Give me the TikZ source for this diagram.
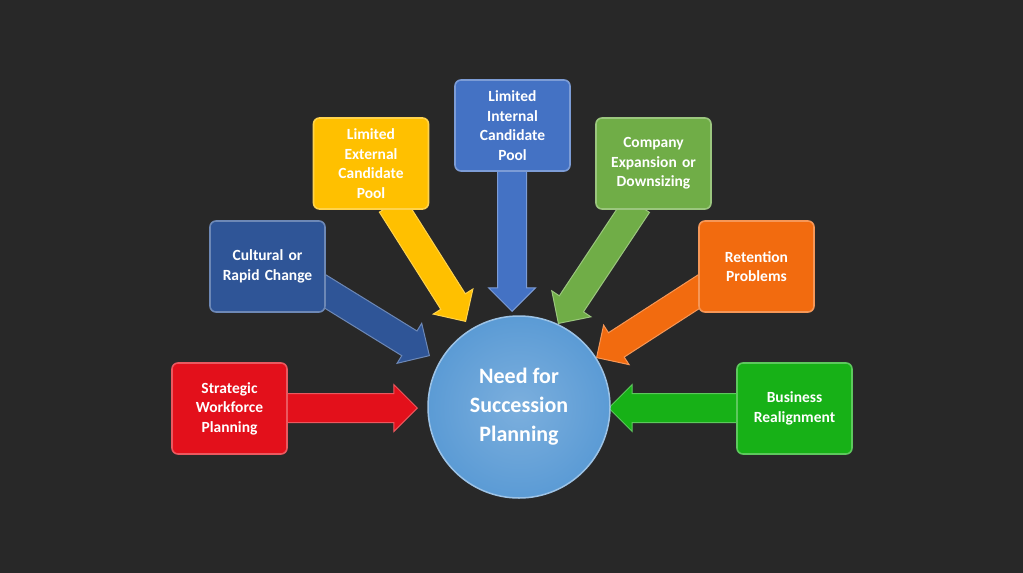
\documentclass[tikz,border=0pt]{standalone}
\usepackage{fontspec}
\setmainfont{Carlito}
\usetikzlibrary{shapes.arrows,calc,backgrounds}
\definecolor{bg}{HTML}{282828}
\definecolor{cred}{HTML}{E3101B}
\definecolor{cdblue}{HTML}{2F5597}
\definecolor{cyel}{HTML}{FFC000}
\definecolor{cblue}{HTML}{4472C4}
\definecolor{cgreen}{HTML}{70AD47}
\definecolor{corange}{HTML}{F26B0F}
\definecolor{cbgreen}{HTML}{17B117}
\definecolor{ccirc}{HTML}{5B9BD5}
\tikzset{
  box/.style={draw=#1!70!white, line width=1.6pt, fill=#1, rounded corners=6pt,
    minimum width=115pt, minimum height=91pt, text width=104pt, align=center,
    text=white, font=\bfseries\fontsize{15.5}{19.5}\selectfont},
  barrow/.style={single arrow, draw=#1!70!white, line width=1pt, fill=#1,
    single arrow head extend=9pt, single arrow head indent=0pt, inner xsep=0pt, inner ysep=14pt},
}
\newcommand\blockarrow[3]{%
  \path let \p1=($(#2)-(#1)$), \n1={veclen(\x1,\y1)}, \n2={atan2(\y1,\x1)} in
    node[barrow=#3, minimum height=\n1, rotate=\n2, anchor=tip] at (#2) {};}
\begin{document}
\begin{tikzpicture}[x=1pt,y=-1pt]
\useasboundingbox (0,0) rectangle (1023,573);
\node[circle, draw=ccirc!60!white, line width=1.5pt, inner color=ccirc!80!white, outer color=ccirc,
  minimum size=182pt, text=white, align=center, font=\bfseries\fontsize{22}{29}\selectfont] (c) at (519,407)
  {Need for\\Succession\\Planning};
\node[box=cred] (b1) at (229.5,408.5) {Strategic\\Workforce\\Planning};
\node[box=cdblue] (b2) at (267.5,266.5) {Cultural or\\Rapid Change};
\node[box=cyel] (b3) at (371,163.5) {Limited\\External\\Candidate\\Pool};
\node[box=cblue] (b4) at (512.5,125.5) {Limited\\Internal\\Candidate\\Pool};
\node[box=cgreen] (b5) at (653.5,163.5) {Company\\Expansion or\\Downsizing};
\node[box=corange] (b6) at (756.5,266.5) {Retention\\Problems};
\node[box=cbgreen] (b7) at (794.5,408.5) {Business\\Realignment};
\coordinate (t1) at (418,408);
\coordinate (t2) at (430,356);
\coordinate (t3) at (466,322);
\coordinate (t4) at (512,312);
\coordinate (t5) at (558,324);
\coordinate (t6) at (596,358);
\coordinate (t7) at (608,408);
\coordinate (s1) at (285,408);
\coordinate (s2) at (318,287);
\coordinate (s3) at (392,205);
\coordinate (s4) at (512,168);
\coordinate (s5) at (637,205);
\coordinate (s6) at (706,287);
\coordinate (s7) at (740,408);
\begin{scope}[on background layer]
\fill[bg] (0,0) rectangle (1023,573);
\blockarrow{s1}{t1}{cred}
\blockarrow{s2}{t2}{cdblue}
\blockarrow{s3}{t3}{cyel}
\blockarrow{s4}{t4}{cblue}
\blockarrow{s5}{t5}{cgreen}
\blockarrow{s6}{t6}{corange}
\blockarrow{s7}{t7}{cbgreen}
\end{scope}
\end{tikzpicture}
\end{document}
